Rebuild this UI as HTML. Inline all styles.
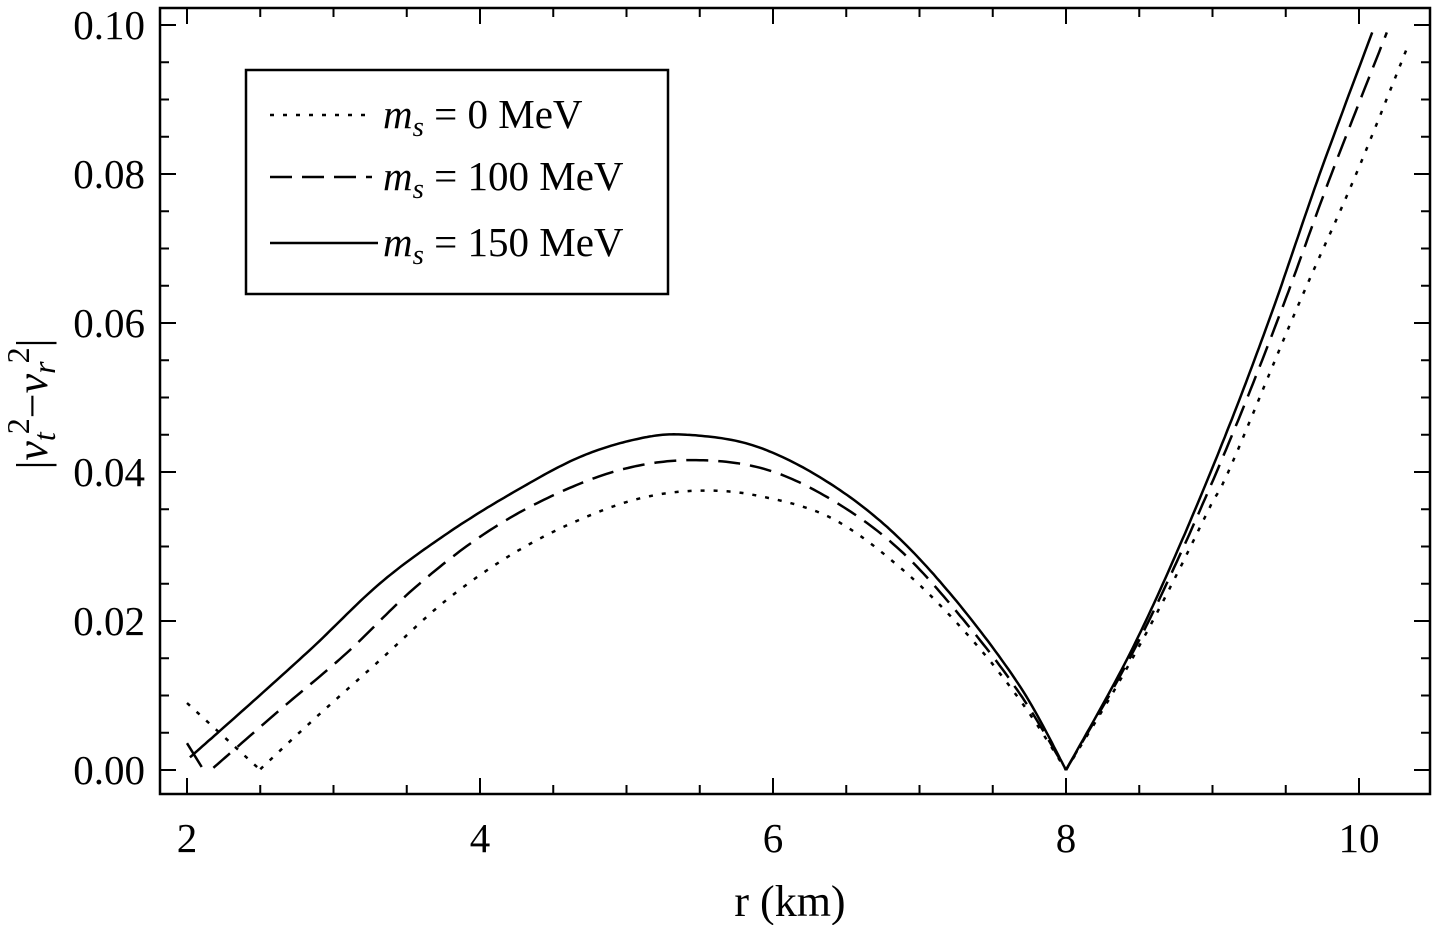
<!DOCTYPE html>
<html><head><meta charset="utf-8"><style>
html,body{margin:0;padding:0;background:#fff;}
svg{display:block;font-family:"Liberation Serif",serif;}
</style></head><body>
<svg id="s" width="1432" height="925" viewBox="0 0 1432 925" xmlns="http://www.w3.org/2000/svg">
<rect x="160" y="8" width="1270" height="786" fill="none" stroke="#000" stroke-width="2.5"/>
<g id="ticks" stroke="#000" stroke-width="2"></g>
<g font-size="41" text-anchor="middle" fill="#000">
<text x="187" y="852">2</text><text x="480" y="852">4</text><text x="773" y="852">6</text><text x="1066" y="852">8</text><text x="1359" y="852">10</text>
</g>
<g font-size="41" text-anchor="end" fill="#000">
<text x="145" y="784">0.00</text><text x="145" y="635">0.02</text><text x="145" y="486">0.04</text><text x="145" y="337">0.06</text><text x="145" y="188">0.08</text><text x="145" y="39">0.10</text>
</g>
<text x="790" y="916" font-size="44" text-anchor="middle">r (km)</text>
<text transform="translate(47,404) rotate(-90)" font-size="44" text-anchor="middle">|<tspan font-style="italic">v</tspan><tspan font-size="32" dy="8" font-style="italic">t</tspan><tspan font-size="32" dx="-2" dy="-26">2</tspan><tspan dy="18">−</tspan><tspan font-style="italic">v</tspan><tspan font-size="32" dy="8" font-style="italic">r</tspan><tspan font-size="32" dx="-2" dy="-26">2</tspan><tspan dy="18">|</tspan></text>
<g id="curves" fill="none" stroke="#000" stroke-width="2.5"></g>
<rect x="246" y="70" width="422" height="224" fill="#fff" stroke="#000" stroke-width="2.5"/>
<line x1="270" y1="115" x2="372" y2="115" stroke="#000" stroke-width="2.5" stroke-dasharray="4,9"/>
<line x1="270" y1="177" x2="372" y2="177" stroke="#000" stroke-width="2.5" stroke-dasharray="22,10"/>
<line x1="270" y1="243" x2="378" y2="243" stroke="#000" stroke-width="2.5"/>
<g font-size="41" fill="#000">
<text x="383" y="128"><tspan font-style="italic">m</tspan><tspan font-style="italic" font-size="29" dy="8">s</tspan><tspan dy="-8"> = 0 MeV</tspan></text>
<text x="383" y="190"><tspan font-style="italic">m</tspan><tspan font-style="italic" font-size="29" dy="8">s</tspan><tspan dy="-8"> = 100 MeV</tspan></text>
<text x="383" y="256"><tspan font-style="italic">m</tspan><tspan font-style="italic" font-size="29" dy="8">s</tspan><tspan dy="-8"> = 150 MeV</tspan></text>
</g>
</svg>
<script>
var NS="http://www.w3.org/2000/svg";
function X(r){return 187+(r-2)*146.5;}
function Y(v){return 770-v*7450;}
var t=document.getElementById("ticks"),d="";
for(var r=1.5;r<=10.4;r+=0.5){var x=X(r);if(x<161)continue;var maj=Math.abs(r-Math.round(r/2)*2)<1e-6,L=maj?16:9;
d+="M"+x+" 794V"+(794-L)+"M"+x+" 8V"+(8+L);}
for(var v=0;v<=0.1001;v+=0.005){var maj=Math.round(v*1000)%20==0,L=maj?16:9;var y=Y(v);
d+="M160 "+y+"H"+(160+L)+"M1430 "+y+"H"+(1430-L);}
var p=document.createElementNS(NS,"path");p.setAttribute("d",d);t.appendChild(p);
function cr(pts){var out=[];for(var i=0;i<pts.length-1;i++){var p0=pts[Math.max(0,i-1)],p1=pts[i],p2=pts[i+1],p3=pts[Math.min(pts.length-1,i+2)];
for(var k=0;k<20;k++){var s=k/20,s2=s*s,s3=s2*s;
var f=function(a,b,c,e){return 0.5*((2*b)+(-a+c)*s+(2*a-5*b+4*c-e)*s2+(-a+3*b-3*c+e)*s3);};
out.push([f(p0[0],p1[0],p2[0],p3[0]),f(p0[1],p1[1],p2[1],p3[1])]);}}
out.push(pts[pts.length-1]);return out;}
function path(segs,dash){var d="";segs.forEach(function(seg){var pts=seg.length>2?cr(seg):seg;
pts.forEach(function(q,i){d+=(i?"L":"M")+X(q[0]).toFixed(1)+" "+Y(q[1]).toFixed(1);});});
var e=document.createElementNS(NS,"path");e.setAttribute("d",d);if(dash)e.setAttribute("stroke-dasharray",dash);
document.getElementById("curves").appendChild(e);}
path([[[2.02,0.0017],[2.41,0.0085],[2.86,0.0165],[3.32,0.0251],[3.78,0.0318],[4.23,0.0373],[4.68,0.042],[5.09,0.0445],[5.41,0.045],[5.86,0.0436],[6.32,0.0393],[6.78,0.0326],[7.23,0.0232],[7.69,0.0111],[8,0]],
[[8,0],[8.42,0.015],[8.76,0.0294],[9.1,0.0455],[9.41,0.0617],[9.73,0.0799],[10.09,0.099]],[[2.0,0.0036],[2.1,0.0004]]],null);
path([[[2.18,0.0003],[2.63,0.008],[3.09,0.0157],[3.54,0.0242],[4.0,0.0313],[4.46,0.0365],[4.96,0.0403],[5.45,0.0416],[5.96,0.0403],[6.44,0.0358],[6.89,0.0291],[7.34,0.0192],[7.7,0.0098],[8,0]],
[[8,0],[8.435,0.015],[8.79,0.0294],[9.145,0.0455],[9.47,0.0617],[9.81,0.0799],[10.19,0.099]]],"22,10");
path([[[2.5,0.0001],[2.86,0.0067],[3.32,0.0148],[3.77,0.0228],[4.23,0.0291],[4.68,0.0336],[5.1,0.0365],[5.5,0.0375],[5.9,0.0368],[6.4,0.0338],[6.89,0.0268],[7.34,0.0179],[7.7,0.009],[8,0]],
[[8,0],[8.3,0.0097],[8.54,0.0181],[8.76,0.0264],[8.98,0.0352],[9.13,0.041],[9.57,0.0617],[9.97,0.0795],[10.33,0.097]],[[2.0,0.009],[2.5,0]]],"4,9");
</script>
</body></html>
